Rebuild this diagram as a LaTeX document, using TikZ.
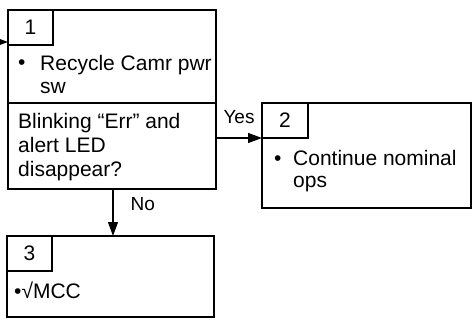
\documentclass[tikz,border=0pt]{standalone}
\usepackage{fontspec}
\setmainfont{Liberation Sans}
\usetikzlibrary{arrows.meta, positioning}
\tikzset{
box/.style={draw, line width=1.6pt, inner sep=0pt, outer sep=0pt, anchor=north west}, % the big frames
tab/.style={box, line width=1.2pt}, % the small number tabs
txt/.style={anchor=base west, inner sep=0pt, align=left}, % text lines, base = last line
flow/.style={-{Triangle[length=14pt,width=10pt]}, line width=1.2pt}, % connectors
}

\begin{document}
\begin{tikzpicture}[x=1pt, y=-1pt, font=\fontsize{21}{24}\selectfont]
      \useasboundingbox (0,0) rectangle (474,329);

      % step 1
      \node[box, minimum width=208pt, minimum height=93pt] (act1) at (8,10) {};
      \node[box, minimum width=208pt, minimum height=86pt] (ask1) at (8,103) {};
      \node[tab, minimum width=45pt, minimum height=35pt] (tab1) at (8,10) {};
      \node at (tab1.center) {1};
      \node[txt] (dot1) at (18,70) {\textbullet};
      \node[txt] (do1) at (40,93) {Recycle Camr pwr\\[-1pt]sw};
      \node[txt] (q1) at (18,176) {Blinking “Err” and\\alert LED\\disappear?};

      % step 2
      \node[box, minimum width=209pt, minimum height=105pt] (act2) at (262,103) {};
      \node[tab, minimum width=46pt, minimum height=35pt] (tab2) at (262,103) {};
      \node at (tab2.center) {2};
      \node[txt] (dot2) at (274,165) {\textbullet};
      \node[txt] (do2) at (293,187) {Continue nominal\\[-2pt]ops};

      % step 3
      \node[box, minimum width=207pt, minimum height=81pt] (act3) at (7,236) {};
      \node[tab, minimum width=45pt, minimum height=35pt] (tab3) at (7,236) {};
      \node at (tab3.center) {3};
      \node[txt] (do3) at (14,298) {\textbullet√MCC};

      \coordinate (in1) at (-20,42);
      \draw[flow] (in1) -- (act1.west |- in1);
      \draw[flow] (ask1.east |- tab2.south west) -- node[above=14pt, inner sep=0pt, font=\fontsize{19}{22}\selectfont] {Yes} (tab2.south west);
      \draw[flow] ([xshift=1pt]ask1.south) -- node[pos=.33, right=17pt, inner sep=0pt, font=\fontsize{19}{22}\selectfont] {No} ([xshift=1pt]ask1.south |- act3.north);
\end{tikzpicture}
\end{document}
